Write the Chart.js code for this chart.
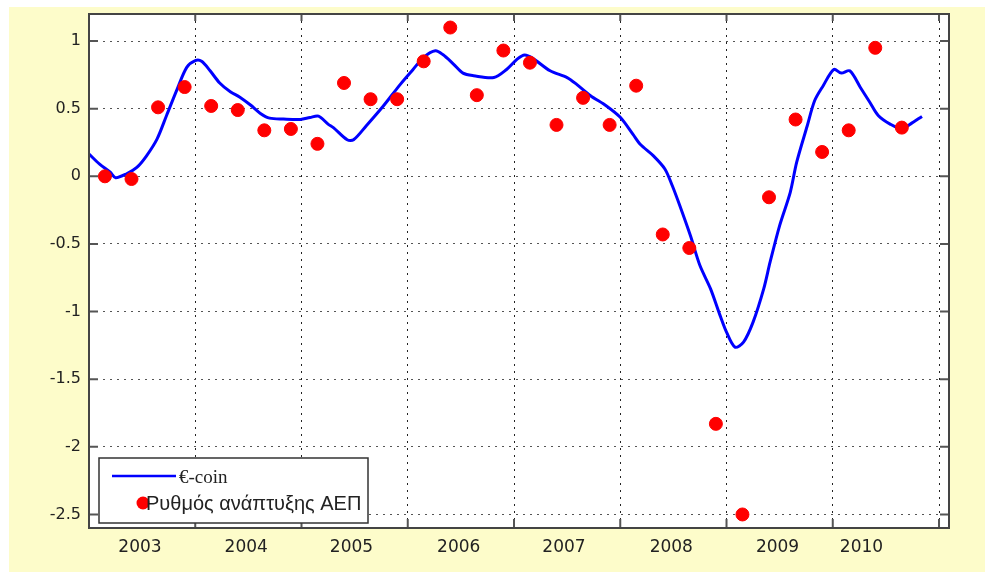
<!DOCTYPE html>
<html>
<head>
<meta charset="utf-8">
<script src="https://cdn.jsdelivr.net/npm/chart.js@4"></script>
<style>
  html, body { margin: 0; padding: 0; background: #ffffff; }
  #wrap { position: relative; width: 985px; height: 573px; }
  canvas { display: block; }
</style>
</head>
<body>
<div id="wrap"><canvas id="chart" width="985" height="573"></canvas></div>
<script>
// Year labels along the bottom and where each one sits (decimal years)
const yearLabels = ['2003', '2004', '2005', '2006', '2007', '2008', '2009', '2010'];
const yearLabelPos = [2003.48, 2004.48, 2005.47, 2006.48, 2007.47, 2008.48, 2009.48, 2010.27];
// Year boundaries that carry a vertical grid line
const gridYears = [2003, 2004, 2005, 2006, 2007, 2008, 2009, 2010, 2011];
// Value-axis ticks
const yTicks = [1, 0.5, 0, -0.5, -1, -1.5, -2, -2.5];

// €-coin indicator (monthly-ish readings, decimal years)
const ecoinDates = [
  2003.00, 2003.10, 2003.20, 2003.25, 2003.35, 2003.45, 2003.54, 2003.64, 2003.73, 2003.83,
  2003.92, 2004.00, 2004.06, 2004.14, 2004.23, 2004.33, 2004.42, 2004.52, 2004.61, 2004.70,
  2004.83, 2004.99, 2005.08, 2005.16, 2005.25, 2005.30, 2005.43, 2005.49, 2005.61, 2005.77,
  2005.93, 2006.05, 2006.15, 2006.26, 2006.33, 2006.43, 2006.52, 2006.62, 2006.81, 2006.93,
  2007.03, 2007.10, 2007.18, 2007.34, 2007.50, 2007.59, 2007.72, 2007.87, 2008.00, 2008.12,
  2008.19, 2008.31, 2008.42, 2008.49, 2008.56, 2008.66, 2008.75, 2008.85, 2008.94, 2009.00,
  2009.08, 2009.16, 2009.25, 2009.35, 2009.41, 2009.50, 2009.60, 2009.66, 2009.76, 2009.83,
  2009.91, 2010.01, 2010.08, 2010.16, 2010.26, 2010.35, 2010.43, 2010.54, 2010.65, 2010.73, 2010.84
];
const ecoinValues = [
  0.165, 0.09, 0.03, -0.01, 0.017, 0.066, 0.15, 0.275, 0.45, 0.645,
  0.805, 0.855, 0.85, 0.78, 0.69, 0.625, 0.585, 0.527, 0.467, 0.43,
  0.423, 0.42, 0.435, 0.445, 0.386, 0.36, 0.27, 0.27, 0.374, 0.52,
  0.68, 0.79, 0.88, 0.928, 0.90, 0.83, 0.763, 0.744, 0.73, 0.79,
  0.866, 0.896, 0.87, 0.78, 0.73, 0.68, 0.596, 0.52, 0.436, 0.31,
  0.235, 0.153, 0.054, -0.07, -0.216, -0.438, -0.66, -0.832, -1.03, -1.152,
  -1.263, -1.226, -1.078, -0.832, -0.635, -0.364, -0.118, 0.103, 0.374, 0.56,
  0.67, 0.79, 0.763, 0.78, 0.657, 0.546, 0.448, 0.386, 0.35, 0.386, 0.443
];

// Quarterly GDP growth (decimal years)
const gdpDates = [
  2003.15, 2003.40, 2003.65, 2003.90, 2004.15, 2004.40, 2004.65, 2004.90,
  2005.15, 2005.40, 2005.65, 2005.90, 2006.15, 2006.40, 2006.65, 2006.90,
  2007.15, 2007.40, 2007.65, 2007.90, 2008.15, 2008.40, 2008.65, 2008.90,
  2009.15, 2009.40, 2009.65, 2009.90, 2010.15, 2010.40, 2010.65
];
const gdpValues = [
  0.0, -0.02, 0.51, 0.66, 0.52, 0.49, 0.34, 0.35,
  0.24, 0.69, 0.57, 0.57, 0.85, 1.10, 0.60, 0.93,
  0.84, 0.38, 0.58, 0.38, 0.67, -0.43, -0.53, -1.83,
  -2.50, -0.155, 0.42, 0.18, 0.34, 0.95, 0.36
];

const CREAM = '#fdfcca';
const TEXT = '#222222';

// Page background, white plotting area, frame, inward ticks and the boxed legend
const framePlugin = {
  id: 'frame',
  beforeDraw(chart) {
    const { ctx, chartArea: a, width, height } = chart;
    ctx.save();
    ctx.fillStyle = '#ffffff';
    ctx.fillRect(0, 0, width, height);
    ctx.fillStyle = CREAM;
    ctx.fillRect(9, 7, width - 9, height - 8);
    ctx.fillStyle = '#ffffff';
    ctx.fillRect(a.left, a.top, a.right - a.left, a.bottom - a.top);
    ctx.restore();
  },
  afterDraw(chart) {
    const { ctx, chartArea: a, scales } = chart;
    const xs = scales.x, ys = scales.y;
    ctx.save();
    // inward tick marks on all four sides
    ctx.strokeStyle = '#555555';
    ctx.lineWidth = 2;
    ctx.beginPath();
    yTicks.forEach(v => {
      const py = ys.getPixelForValue(v);
      ctx.moveTo(a.left, py); ctx.lineTo(a.left + 9, py);
      ctx.moveTo(a.right, py); ctx.lineTo(a.right - 9, py);
    });
    gridYears.forEach(v => {
      const px = xs.getPixelForValue(v);
      if (px <= a.left + 1) return;
      ctx.moveTo(px, a.bottom); ctx.lineTo(px, a.bottom - 9);
      ctx.moveTo(px, a.top); ctx.lineTo(px, a.top + 7);
    });
    ctx.stroke();
    // plot frame
    ctx.strokeStyle = '#444444';
    ctx.lineWidth = 2;
    ctx.strokeRect(a.left, a.top, a.right - a.left, a.bottom - a.top);

    // legend box in the lower-left corner
    const lx = a.left + 10, ly = a.bottom - 70, lw = 269, lh = 65;
    ctx.fillStyle = '#ffffff';
    ctx.fillRect(lx, ly, lw, lh);
    ctx.strokeStyle = '#333333';
    ctx.lineWidth = 1.5;
    ctx.strokeRect(lx, ly, lw, lh);
    const ds = chart.data.datasets;
    // line entry
    ctx.strokeStyle = ds[0].borderColor;
    ctx.lineWidth = 2.5;
    ctx.beginPath();
    ctx.moveTo(lx + 13, ly + 18); ctx.lineTo(lx + 77, ly + 18);
    ctx.stroke();
    ctx.fillStyle = TEXT;
    ctx.textBaseline = 'middle';
    ctx.textAlign = 'left';
    ctx.font = '19px "Liberation Serif", serif';
    ctx.fillText(ds[0].label, lx + 80, ly + 20);
    // marker entry
    ctx.fillStyle = ds[1].backgroundColor;
    ctx.beginPath();
    ctx.arc(lx + 44, ly + 45, 6.5, 0, Math.PI * 2);
    ctx.fill();
    ctx.fillStyle = TEXT;
    ctx.font = '20px "Liberation Sans", Arial, sans-serif';
    ctx.fillText(ds[1].label, lx + 47, ly + 46);
    ctx.restore();
  }
};

new Chart(document.getElementById('chart'), {
  data: {
    datasets: [
      {
        type: 'line',
        label: '€-coin',
        data: ecoinDates.map((x, i) => ({ x, y: ecoinValues[i] })),
        borderColor: '#0000ff',
        borderWidth: 3,
        pointRadius: 0,
        tension: 0.3,
        fill: false,
        order: 2
      },
      {
        type: 'scatter',
        label: 'Ρυθμός ανάπτυξης ΑΕΠ',
        data: gdpDates.map((x, i) => ({ x, y: gdpValues[i] })),
        backgroundColor: '#ff0000',
        borderColor: '#ff0000',
        pointRadius: 6.5,
        pointHoverRadius: 6.5,
        order: 1
      }
    ]
  },
  options: {
    responsive: false,
    animation: false,
    devicePixelRatio: 1,
    layout: { padding: { left: 0, top: 14, right: 36, bottom: 0 } },
    plugins: { legend: { display: false }, tooltip: { enabled: false } },
    scales: {
      x: {
        type: 'linear',
        min: 2003,
        max: 2011.094,
        afterBuildTicks: s => {
          s.ticks = [...gridYears, ...yearLabelPos].sort((p, q) => p - q).map(v => ({ value: v }));
        },
        ticks: {
          autoSkip: false,
          maxRotation: 0,
          padding: 9,
          color: TEXT,
          font: { family: '"DejaVu Sans", Verdana, sans-serif', size: 17 },
          callback: v => {
            const i = yearLabelPos.indexOf(v);
            return i >= 0 ? yearLabels[i] : '';
          }
        },
        grid: {
          drawTicks: false,
          lineWidth: 1,
          color: c => (c.tick && gridYears.includes(c.tick.value)) ? '#222222' : 'rgba(0,0,0,0)'
        },
        border: { display: false, dash: [2, 5] },
        afterFit: s => { s.height = 45; s.paddingLeft = 0; s.paddingRight = 0; }
      },
      y: {
        type: 'linear',
        min: -2.6,
        max: 1.2,
        afterBuildTicks: s => { s.ticks = yTicks.map(v => ({ value: v })); },
        ticks: {
          padding: 8,
          color: TEXT,
          font: { family: '"DejaVu Sans", Verdana, sans-serif', size: 16 },
          callback: v => String(v)
        },
        grid: { drawTicks: false, lineWidth: 1, color: '#555555' },
        border: { display: false, dash: [2, 5] },
        afterFit: s => { s.width = 89; s.paddingTop = 0; s.paddingBottom = 0; }
      }
    }
  },
  plugins: [framePlugin]
});
</script>
</body>
</html>
